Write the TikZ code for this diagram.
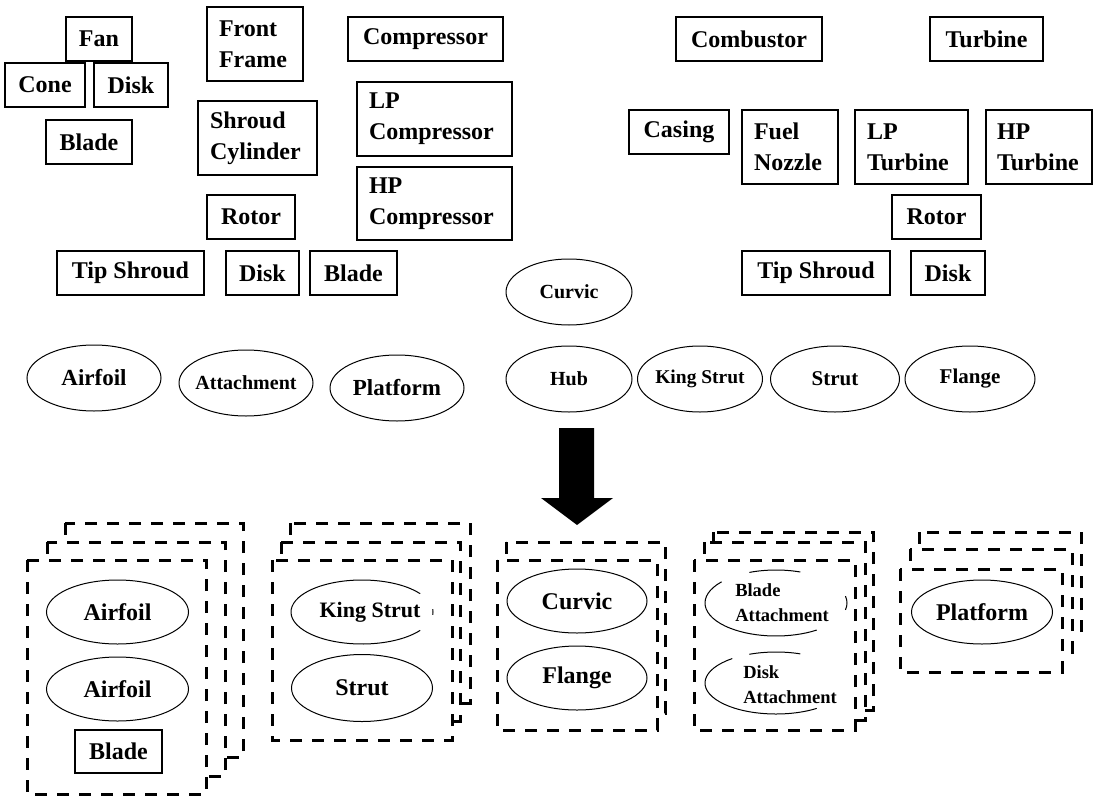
\documentclass[tikz,border=0pt]{standalone}
\usepackage{fontspec}
\setmainfont{Liberation Serif}
\usetikzlibrary{shapes.geometric}
% zero-width wrapper so an ellipse keeps the size given to it
\newcommand{\ovtext}[1]{\makebox[0pt]{#1}}
\begin{document}
\begin{tikzpicture}[x=1pt,y=-1pt,
  txt/.style={font=\fontsize{24}{31}\selectfont\bfseries, inner sep=0pt},
  box/.style={txt, draw, line width=1.8pt, minimum height=44pt},
  box2/.style={box, align=left, inner xsep=12pt, minimum height=74pt},
  oval/.style={txt, ellipse, draw, line width=1pt},
  stackbox/.style={draw, fill=white, line width=3pt, dash pattern=on 12pt off 10pt},
  part/.style={line width=1pt},
  note/.style={font=\fontsize{18.5}{25}\selectfont\bfseries, align=left, inner sep=0pt}]
\useasboundingbox (0,0) rectangle (1094,797);
\fill[white] (0,0) rectangle (1094,797);

% ---------- fan and front frame ----------
\node[box, minimum width=66pt] (fan) at (99,39) {Fan};
\node[box, minimum width=80pt] (cone) at (45,85) {Cone};
\node[box, minimum width=74pt] (fandisk) at (131,85) {Disk};
\node[box, minimum width=86pt] (fanblade) at (89,142) {Blade};
\node[box2, text width=72pt] (frontframe) at (255,44) {Front\\Frame};
\node[box2, text width=95pt] (shroudcyl) at (257.5,138) {Shroud\\Cylinder};
\node[box, minimum width=88pt] (rotorc) at (251,217) {Rotor};
\node[box, minimum width=147pt] (tipshroudc) at (130.5,273) {Tip Shroud};
\node[box, minimum width=73pt] (diskc) at (262.5,273) {Disk};
\node[box, minimum width=87pt] (bladec) at (353.5,273) {Blade};

% ---------- compressor ----------
\node[box, minimum width=155pt] (compressor) at (425.5,39) {Compressor};
\node[box2, text width=131pt] (lpcomp) at (434.5,119) {LP\\Compressor};
\node[box2, text width=131pt, minimum height=73pt] (hpcomp) at (434.5,203.5) {HP\\Compressor};

% ---------- combustor and turbine ----------
\node[box, minimum width=146pt] (combustor) at (749,39) {Combustor};
\node[box, minimum width=113pt] (turbine) at (986.5,39) {Turbine};
\node[box, minimum width=100pt] (casing) at (679,132) {Casing};
\node[box2, text width=72pt] (fuelnozzle) at (790,147) {Fuel\\Nozzle};
\node[box2, text width=89pt] (lpturb) at (911.5,147) {LP\\Turbine};
\node[box2, inner xsep=11pt, text width=84pt] (hpturb) at (1039,147) {HP\\Turbine};
\node[box, minimum width=89pt] (rotort) at (936.5,217) {Rotor};
\node[box, minimum width=148pt] (tipshroudt) at (816,273) {Tip Shroud};
\node[box, minimum width=74pt] (diskt) at (948,273) {Disk};

% ---------- features ----------
\node[oval, minimum width=126pt, minimum height=66pt, font=\fontsize{20}{24}\selectfont\bfseries] (curvic) at (569,292) {\ovtext{Curvic}};
\node[oval, minimum width=134pt, minimum height=66pt, font=\fontsize{23}{26}\selectfont\bfseries] (airfoil) at (94,378) {\ovtext{Airfoil}};
\node[oval, minimum width=134pt, minimum height=66pt, font=\fontsize{20}{24}\selectfont\bfseries] (attachment) at (246,383) {\ovtext{Attachment}};
\node[oval, minimum width=134pt, minimum height=66pt, font=\fontsize{23}{26}\selectfont\bfseries] (platform) at (397,388) {\ovtext{Platform}};
\node[oval, minimum width=126pt, minimum height=66pt, font=\fontsize{20}{24}\selectfont\bfseries] (hub) at (569,379) {\ovtext{Hub}};
\node[oval, minimum width=125pt, minimum height=66pt, font=\fontsize{19.5}{24}\selectfont\bfseries] (kingstrut) at (700,379) {\ovtext{King Strut}};
\node[oval, minimum width=129pt, minimum height=66pt, font=\fontsize{21}{24}\selectfont\bfseries] (strut) at (835,379) {\ovtext{Strut}};
\node[oval, minimum width=130pt, minimum height=66pt, font=\fontsize{21}{24}\selectfont\bfseries] (flange) at (970,379) {\ovtext{Flange}};

% ---------- block arrow ----------
\fill (559,428) -- (594,428) -- (594,498) -- (613,498) -- (577,525)
      -- (541,498) -- (559,498) -- cycle;

% ---------- group 1: airfoils and blade ----------
\draw[stackbox] (65,523) rectangle (243,757);
\draw[stackbox] (47,542) rectangle (225,776);
\draw[stackbox] (27,560) rectangle (206,794);
\node[oval, minimum width=142pt, minimum height=64pt] (airfoilA) at (117.5,612) {\ovtext{Airfoil}};
\node[oval, minimum width=142pt, minimum height=64pt] (airfoilB) at (117.5,689) {\ovtext{Airfoil}};
\node[box, minimum width=87pt, minimum height=43pt] (bladeG) at (118.5,751.5) {Blade};

% ---------- group 2: struts ----------
\draw[stackbox] (290,523) rectangle (470,703);
\draw[stackbox] (281,542) rectangle (460,721);
\draw[stackbox] (272,560) rectangle (452,740);
\coordinate (ksc) at (362,612);
\draw[part] (ksc) ++(35:71pt and 32pt) arc[start angle=35, end angle=325, x radius=71pt, y radius=32pt];
\draw[part] (ksc) ++(-5:71pt and 32pt) arc[start angle=-5, end angle=5, x radius=71pt, y radius=32pt];
\node[txt, font=\fontsize{22}{26}\selectfont\bfseries] (kingstrutG) at (370,612) {King Strut};
\node[oval, minimum width=141pt, minimum height=67pt] (strutG) at (362,688) {\ovtext{Strut}};

% ---------- group 3: curvic and flange ----------
\draw[stackbox] (506,542) rectangle (665,713);
\draw[stackbox] (497,560) rectangle (657,730);
\node[oval, minimum width=140pt, minimum height=64pt] (curvicG) at (577,601) {\ovtext{Curvic}};
\node[oval, minimum width=140pt, minimum height=64pt] (flangeG) at (577,678) {\ovtext{Flange}};

% ---------- group 4: attachments ----------
\draw[stackbox] (713,532) rectangle (873,710);
\draw[stackbox] (704,542) rectangle (865,720);
\draw[stackbox] (694,560) rectangle (855,730);
\coordinate (bac) at (776,603);
\draw[part] (bac) ++(70:71pt and 33pt) arc[start angle=70, end angle=112, x radius=71pt, y radius=33pt];
\draw[part] (bac) ++(140:71pt and 33pt) arc[start angle=140, end angle=305, x radius=71pt, y radius=33pt];
\draw[part] (bac) ++(-12:71pt and 33pt) arc[start angle=-12, end angle=12, x radius=71pt, y radius=33pt];
\node[note] (bladeatt) at (782,603) {Blade\\Attachment};
\coordinate (dac) at (776,683);
\draw[part] (dac) ++(70:71pt and 31pt) arc[start angle=70, end angle=112, x radius=71pt, y radius=31pt];
\draw[part] (dac) ++(128:71pt and 31pt) arc[start angle=128, end angle=305, x radius=71pt, y radius=31pt];
\node[note] (diskatt) at (790,685) {Disk\\Attachment};

% ---------- group 5: platform ----------
\draw[stackbox] (919,532) rectangle (1081,633);
\draw[stackbox] (910,549) rectangle (1072,652);
\draw[stackbox] (900,569) rectangle (1062,672);
\node[oval, minimum width=141pt, minimum height=64pt] (platformG) at (982,612) {\ovtext{Platform}};
\end{tikzpicture}
\end{document}
